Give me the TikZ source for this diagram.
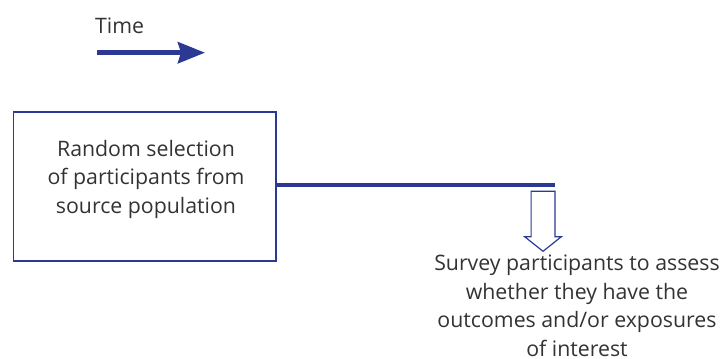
\documentclass[tikz,border=0pt]{standalone}
\usepackage{fontspec}
\setmainfont{Open Sans}
\usepackage{tikz}
\usetikzlibrary{arrows.meta,shapes.arrows}
\definecolor{navy}{RGB}{43,57,148}
\definecolor{txtgray}{RGB}{51,51,51}

\begin{document}
\begin{tikzpicture}[x=1pt, y=1pt,
    box/.style={rectangle, draw=navy, line width=1.6pt, minimum width=262.5pt, minimum height=149pt, inner sep=0pt},
    txt/.style={align=center, text=txtgray, font=\fontsize{21.3}{28.5}\selectfont, inner sep=0pt},
    bar/.style={draw=navy, line width=4.6pt},
    down/.style={single arrow, draw=navy, line width=1.2pt, rotate=-90, minimum height=60pt, inner xsep=0pt, inner ysep=11.3pt, single arrow head extend=6.35pt, single arrow tip angle=103}]
    \useasboundingbox (0,0) rectangle (724,-359);

    % Time axis
    \node[txt, anchor=base west] (time) at (95,-33) {Time};
    \coordinate (tstart) at (97,-52.7);
    \coordinate (tend) at (205,-52.7);
    \draw[bar, line width=5pt, -{Stealth[length=27pt, width=21pt, inset=3pt]}] (tstart) -- (tend);

    % Selection box
    \node[box] (sel) at (144.75,-186.5) {};
    \node[txt] (seltext) at (146,-179) {Random selection\\of participants from\\source population};

    % Follow-up line
    \coordinate (lineend) at (555,-185);
    \draw[bar] (sel.east |- lineend) -- (lineend);

    % Survey arrow
    \node[down, anchor=tail] (survey) at (543,-190.7) {};
    \node[txt] (surveytext) at (577,-306) {Survey participants to assess\\whether they have the\\outcomes and/or exposures\\of interest};
\end{tikzpicture}
\end{document}
